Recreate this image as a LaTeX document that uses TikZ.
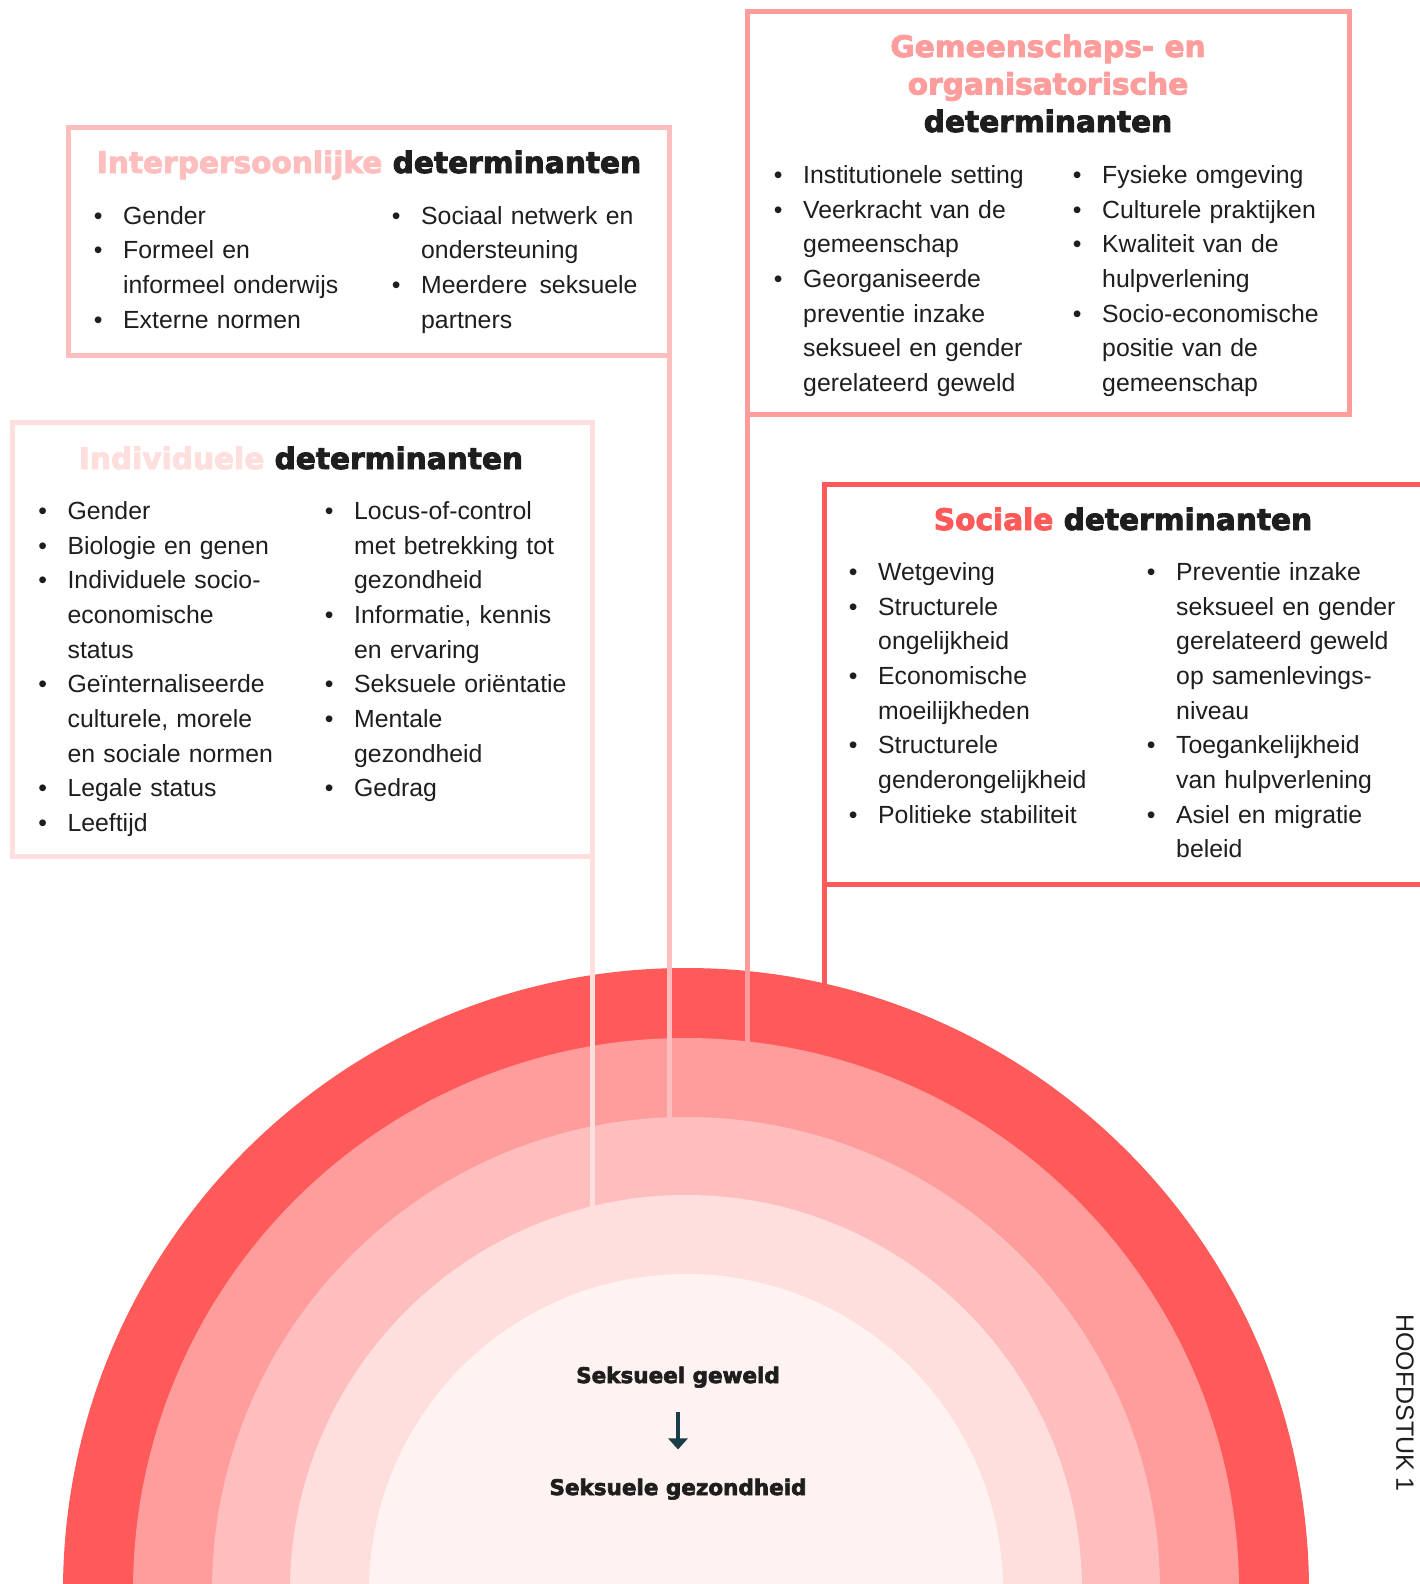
\documentclass[tikz,border=0pt]{standalone}
\usepackage{fontspec}
\usetikzlibrary{arrows.meta}
\setmainfont{Liberation Sans}
\newfontfamily\headfont{DejaVu Sans}[BoldFeatures={FakeBold=3}]

\definecolor{socred}{HTML}{FF5A5A}
\definecolor{gemred}{HTML}{FF9C9C}
\definecolor{interpink}{HTML}{FFBEBE}
\definecolor{indivpink}{HTML}{FFDEDE}
\definecolor{corepink}{HTML}{FFF3F2}
\definecolor{inkdark}{HTML}{1E1E1E}
\definecolor{arrowteal}{HTML}{1A3D4A}

\newcommand{\itm}[1]{\noindent\hangindent=25pt\hangafter=1\makebox[25pt][l]{\hspace{-4.3pt}\textbullet}\strut#1\par}

\tikzset{
  detbox/.style={draw=#1, line width=5pt, inner sep=0pt, outer sep=0pt},
  detlist/.style={anchor=north west, inner sep=0pt, text width=300pt, align=left, text=inkdark, font=\fontsize{24.8}{34.65}\selectfont},
  dethead/.style={anchor=base, inner sep=0pt, text=inkdark, font=\headfont\bfseries\fontsize{29.6}{37.5}\selectfont},
  ringline/.style={draw=#1, line width=5pt},
  coretext/.style={anchor=base, inner sep=0pt, text=inkdark, font=\headfont\bfseries\fontsize{21.5}{26}\selectfont},
  corearrow/.style={draw=arrowteal, line width=4.5pt, -{Triangle[width=19pt,length=11pt]}}
}

\begin{document}
\begin{tikzpicture}[x=1pt,y=-1pt]
	\useasboundingbox (0,0) rectangle (1420,1584);
	\clip (0,0) rectangle (1420,1584);
	\fill[white] (0,0) rectangle (1420,1584);
	\coordinate (C) at (686,1591);
	\fill[socred] (C) circle (623pt);
	\fill[gemred] (C) circle (553pt);
	\fill[interpink] (C) circle (474pt);
	\fill[indivpink] (C) circle (396pt);
	\fill[corepink] (C) circle (317pt);

	\node[detbox=socred, minimum width=622pt, minimum height=400pt] (sociaal) at (1135,684) {};
	\node[detbox=gemred, minimum width=602pt, minimum height=402pt] (gemeen) at (1048,213) {};
	\node[detbox=interpink, minimum width=601pt, minimum height=227pt] (interp) at (368.5,241.5) {};
	\node[detbox=indivpink, minimum width=580pt, minimum height=434pt] (indiv) at (302,639) {};

	\coordinate (indivEnd) at (592,1208);
	\coordinate (interpEnd) at (669,1119);
	\coordinate (gemeenEnd) at (747,1043);
	\coordinate (sociaalEnd) at (824,986);
	\draw[ringline=indivpink] (indiv.south east) -- (indivEnd);
	\draw[ringline=interpink] (interp.south east) -- (interpEnd);
	\draw[ringline=gemred] (gemeen.south west) -- (gemeenEnd);
	\draw[ringline=socred] (sociaal.south west) -- (sociaalEnd);

	\node[dethead] (interpTitle) at (369,173) {\textcolor{interpink}{Interpersoonlijke} determinanten};
	\node[dethead] (gemeenTitleA) at (1048,57) {\textcolor{gemred}{Gemeenschaps- en}};
	\node[dethead] (gemeenTitleB) at (1048,94.5) {\textcolor{gemred}{organisatorische}};
	\node[dethead] (gemeenTitleC) at (1048,132) {determinanten};
	\node[dethead] (indivTitle) at (301,469) {\textcolor{indivpink}{Individuele} determinanten};
	\node[dethead] (sociaalTitle) at (1123,530) {\textcolor{socred}{Sociale} determinanten};

	\node[detlist] (interpL) at (98,199.6) {\itm{Gender}\itm{Formeel en\newline informeel onderwijs}\itm{Externe normen}};
	\node[detlist] (interpR) at (396,199.6) {\itm{Sociaal netwerk en\newline ondersteuning}\itm{Meerdere\hspace{4pt} seksuele\newline partners}};

	\node[detlist] (gemeenL) at (778,159.1) {\itm{Institutionele setting}\itm{Veerkracht van de\newline gemeenschap}\itm{Georganiseerde\newline preventie inzake\newline seksueel en gender\newline gerelateerd geweld}};
	\node[detlist] (gemeenR) at (1077,159.1) {\itm{Fysieke omgeving}\itm{Culturele praktijken}\itm{Kwaliteit van de\newline hulpverlening}\itm{Socio-economische\newline positie van de\newline gemeenschap}};

	\node[detlist] (indivL) at (42.4,495.1) {\itm{Gender}\itm{Biologie en genen}\itm{Individuele socio-\newline economische\newline status}\itm{Geïnternaliseerde\newline culturele, morele\newline en sociale normen}\itm{Legale status}\itm{Leeftijd}};
	\node[detlist] (indivR) at (329,495.1) {\itm{Locus-of-control\newline met betrekking tot\newline gezondheid}\itm{Informatie, kennis\newline en ervaring}\itm{Seksuele oriëntatie}\itm{Mentale\newline gezondheid}\itm{Gedrag}};

	\node[detlist] (sociaalL) at (853,556.1) {\itm{Wetgeving}\itm{Structurele\newline ongelijkheid}\itm{Economische\newline moeilijkheden}\itm{Structurele\newline genderongelijkheid}\itm{Politieke stabiliteit}};
	\node[detlist] (sociaalR) at (1151,556.1) {\itm{Preventie inzake\newline seksueel en gender\newline gerelateerd geweld\newline op samenlevings-\newline niveau}\itm{Toegankelijkheid\newline van hulpverlening}\itm{Asiel en migratie\newline beleid}};

	\node[coretext] (geweld) at (678,1383) {Seksueel geweld};
	\node[coretext] (gezond) at (678,1495) {Seksuele gezondheid};
	\draw[corearrow, shorten <=24pt, shorten >=29pt] (geweld) -- (gezond);

	\node[rotate=-90, inner sep=0pt, text=inkdark, font=\fontsize{25}{30}\selectfont] (chapter) at (1405,1403) {HOOFDSTUK 1};
\end{tikzpicture}
\end{document}
